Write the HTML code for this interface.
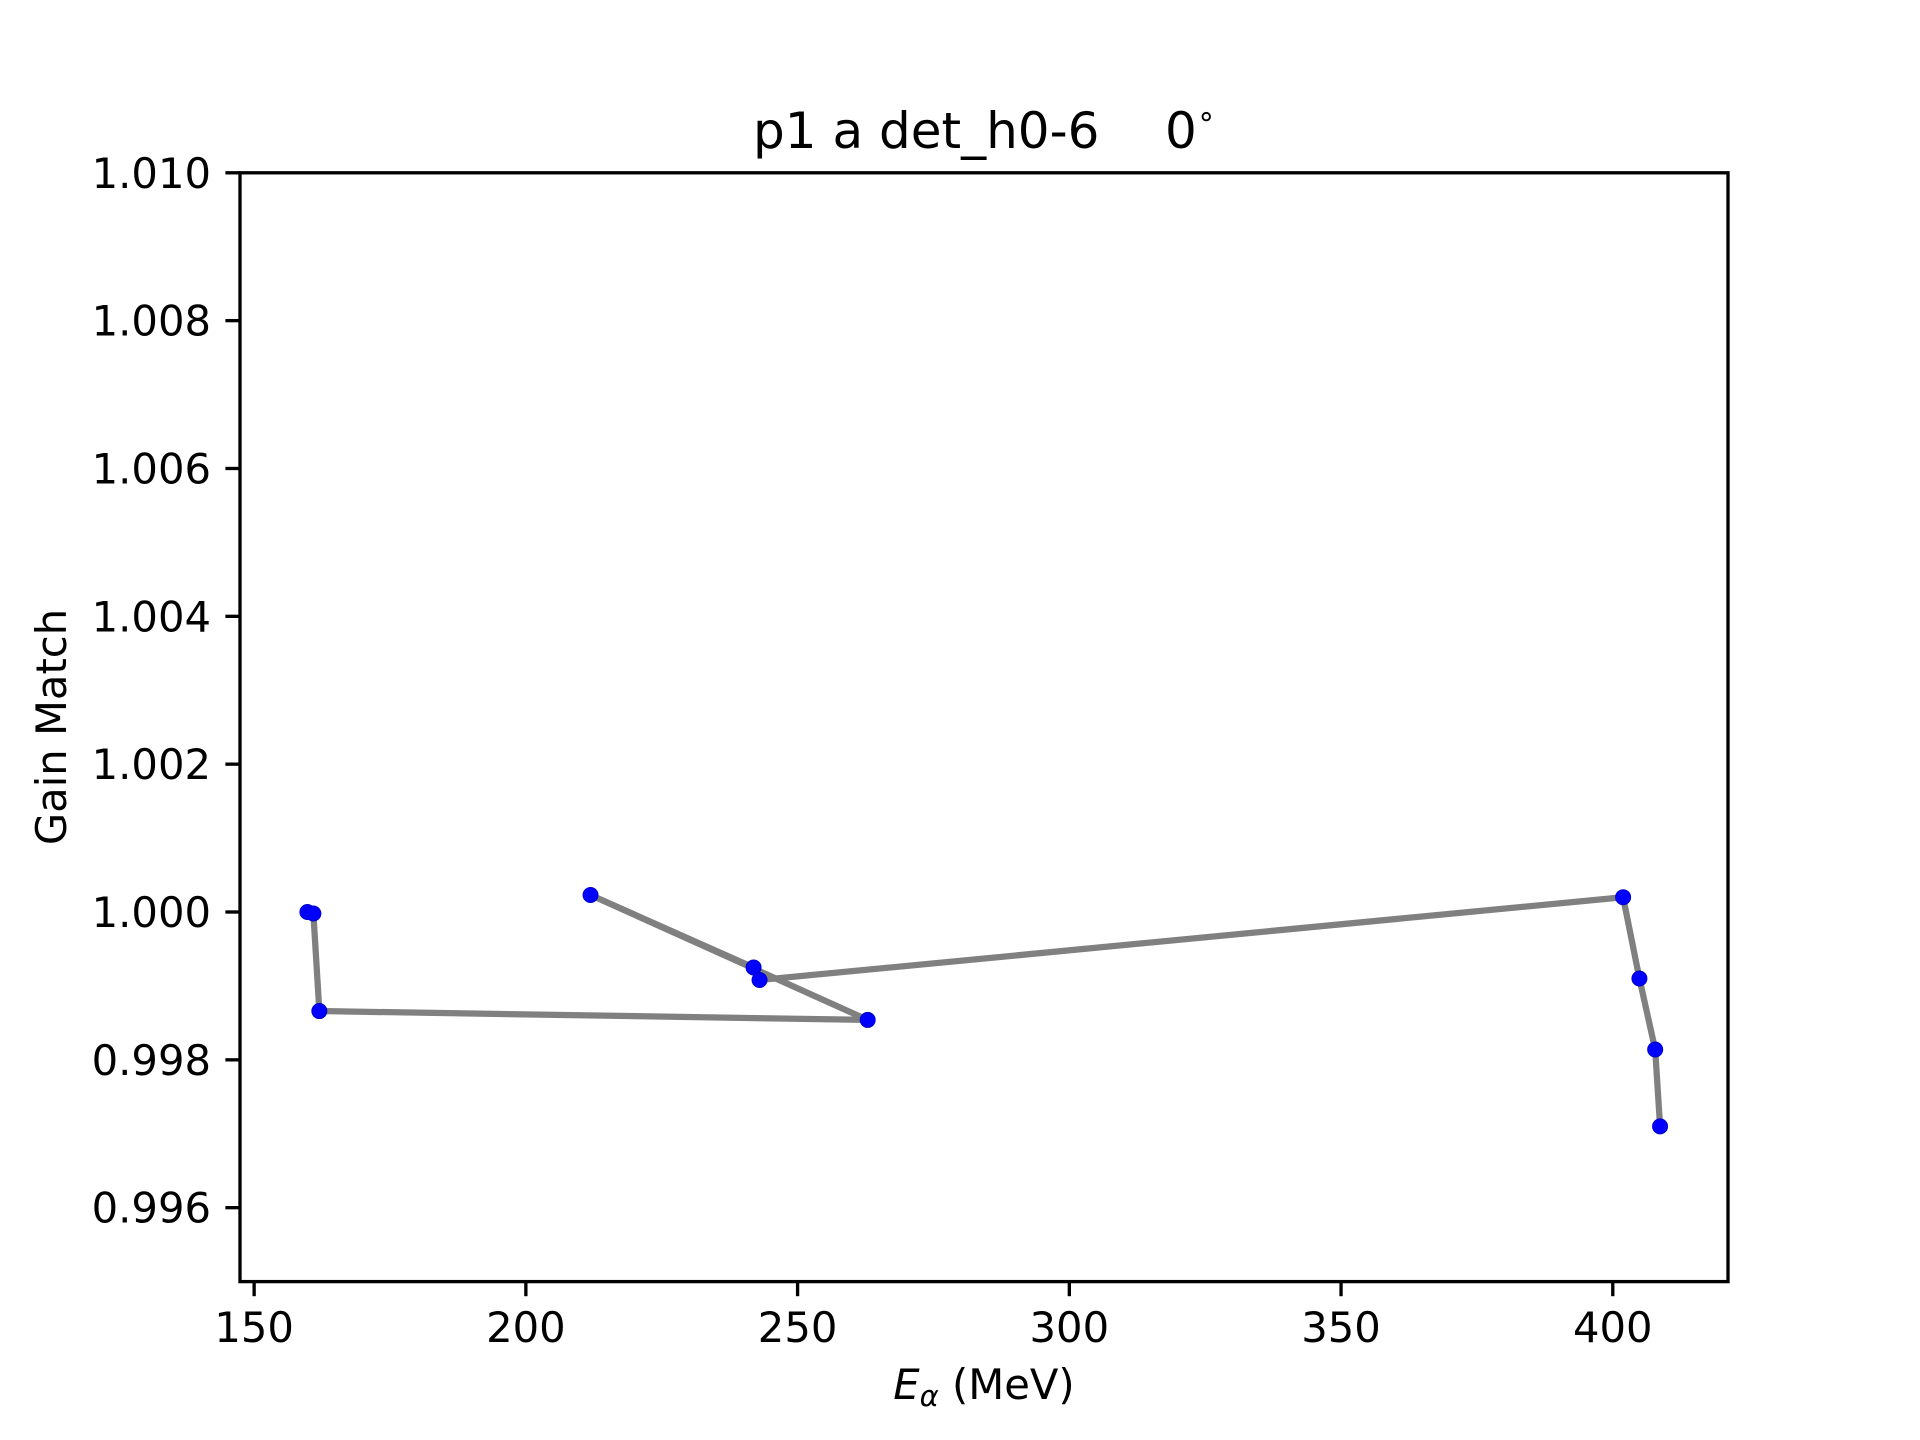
<!DOCTYPE html>
<html><head><meta charset="utf-8"><style>
html,body{margin:0;padding:0;background:#fff}
svg{display:block}
text{font-family:"DejaVu Sans","Liberation Sans",sans-serif;fill:#000}
</style></head><body>
<svg id="chart" width="1920" height="1440" viewBox="0 0 1920 1440" xmlns="http://www.w3.org/2000/svg">
<rect width="1920" height="1440" fill="#fff"/>
<text x="753" y="148" font-size="50" xml:space="preserve">p1 a det_h0-6</text>
<text x="1165" y="148" font-size="50">0<tspan font-size="30" dy="-22">∘</tspan></text>
<g id="plot"></g>
<text x="984" y="1399" font-size="41.7" text-anchor="middle"><tspan font-style="italic">E</tspan><tspan font-style="italic" font-size="29" dy="7">α</tspan><tspan dy="-7"> (MeV)</tspan></text>
<text transform="translate(66,727) rotate(-90)" font-size="41.7" text-anchor="middle">Gain Match</text>
</svg>
<script>
const energies = [159.8, 160.9, 162.0, 262.9, 211.9, 241.9, 243.0, 401.9, 404.9, 407.8, 408.7];
const gains = [1.0000, 0.99998, 0.99866, 0.99854, 1.00023, 0.99925, 0.99908, 1.0002, 0.99910, 0.99814, 0.99710];
const xTicks = [150, 200, 250, 300, 350, 400];
const yTicks = [0.996, 0.998, 1.000, 1.002, 1.004, 1.006, 1.008, 1.010];
const yTickLabels = ["0.996", "0.998", "1.000", "1.002", "1.004", "1.006", "1.008", "1.010"];

const L = 240, R = 1728, T = 172.8, B = 1281.6;
const xMin = 147.4, xMax = 421.2, yMin = 0.995, yMax = 1.010;
const sx = v => L + (v - xMin) / (xMax - xMin) * (R - L);
const sy = v => B - (v - yMin) / (yMax - yMin) * (B - T);
const NS = "http://www.w3.org/2000/svg";
const g = document.getElementById('plot');
function mk(tag, attrs) { const e = document.createElementNS(NS, tag); for (const k in attrs) e.setAttribute(k, attrs[k]); g.appendChild(e); return e; }

const pts = energies.map((e, i) => sx(e).toFixed(2) + ',' + sy(gains[i]).toFixed(2)).join(' ');
const line = mk('polyline', {points: pts, fill: 'none', stroke: '#808080', 'stroke-width': 6.25, 'stroke-linejoin': 'round', 'stroke-linecap': 'square'});


energies.forEach((e, i) => {
  const c = mk('circle', {cx: sx(e), cy: sy(gains[i]), r: 7.5, fill: '#0000ff', stroke: '#0000cc', 'stroke-width': 1});
  
  
});

const frame = mk('rect', {x: L, y: T, width: R - L, height: B - T, fill: 'none', stroke: '#000', 'stroke-width': 3.33});



xTicks.forEach(v => {
  const x = sx(v);
  const t = mk('line', {x1: x, x2: x, y1: B, y2: B + 14.6, stroke: '#000', 'stroke-width': 3.33});
  
  
  const lb = mk('text', {x: x, y: 1342, 'font-size': 41.7, 'text-anchor': 'middle'});
  lb.textContent = String(v);
  
  
});
yTicks.forEach((v, i) => {
  const y = sy(v);
  const t = mk('line', {x1: L - 14.6, x2: L, y1: y, y2: y, stroke: '#000', 'stroke-width': 3.33});
  
  
  const lb = mk('text', {x: 211, y: y + 15, 'font-size': 41.7, 'text-anchor': 'end'});
  lb.textContent = yTickLabels[i];
  
  
});
</script>
</body></html>
